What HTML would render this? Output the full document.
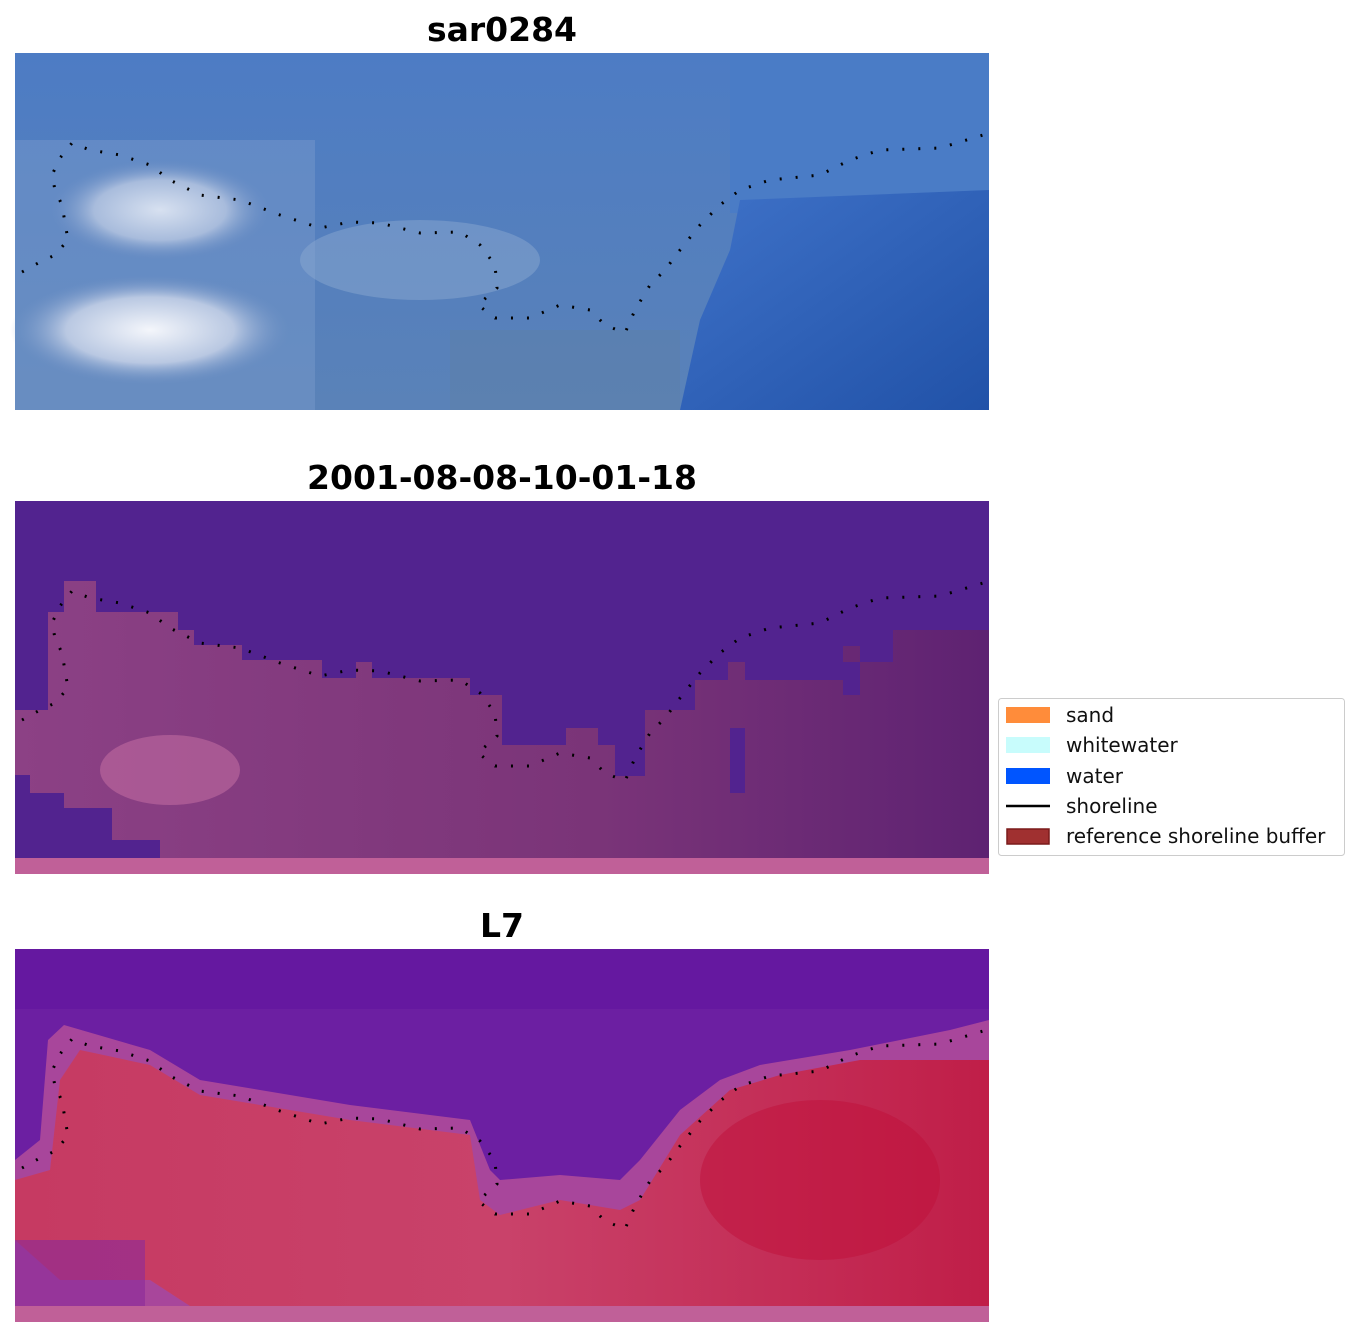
<!DOCTYPE html>
<html><head><meta charset="utf-8"><style>
body{margin:0;background:#fff;width:1360px;height:1337px;overflow:hidden;font-family:"DejaVu Sans","Liberation Sans",sans-serif}
</style></head><body>
<svg width="1360" height="1337" xmlns="http://www.w3.org/2000/svg" font-family="DejaVu Sans, Liberation Sans, sans-serif">
<defs>
<linearGradient id="b1" x1="0" y1="0" x2="0" y2="1"><stop offset="0" stop-color="#4d7cc4"/><stop offset="1" stop-color="#5a82b8"/></linearGradient>
<linearGradient id="b2" x1="0" y1="0" x2="1" y2="1"><stop offset="0" stop-color="#3f72c8"/><stop offset="1" stop-color="#2152a8"/></linearGradient>
<radialGradient id="w1" cx="0.5" cy="0.5" r="0.5"><stop offset="0" stop-color="#f4f6fb"/><stop offset="0.6" stop-color="#b9c8e2"/><stop offset="1" stop-color="#6f90c4" stop-opacity="0"/></radialGradient>
<linearGradient id="p2" x1="0" y1="0" x2="1" y2="0"><stop offset="0" stop-color="#8c4185"/><stop offset="0.6" stop-color="#7a3478"/><stop offset="1" stop-color="#5e2272"/></linearGradient>
<linearGradient id="r3" x1="0" y1="0" x2="1" y2="0"><stop offset="0" stop-color="#c63a62"/><stop offset="0.5" stop-color="#c9426a"/><stop offset="1" stop-color="#c01e48"/></linearGradient>
<g id="shore"><polyline fill="none" stroke="#000" stroke-width="3" stroke-dasharray="2,14" points="22,272 40,262 55,255 68,240 62,205 55,190 52,175 60,158 72,143 90,150 120,155 150,165 170,180 200,195 240,200 280,215 320,228 350,222 380,223 420,233 460,232 480,245 495,265 497,288 478,305 495,318 530,318 560,305 590,310 605,325 625,333 635,310 650,285 665,270 680,250 700,225 720,205 740,190 770,180 820,175 850,160 880,150 940,148 983,135"/></g>
</defs>
<!-- Panel 1 -->
<text x="502" y="41" font-size="33" font-weight="bold" text-anchor="middle">sar0284</text>
<rect x="15" y="53" width="974" height="357" fill="url(#b1)"/>
<rect x="15" y="140" width="300" height="270" fill="#7a9ccc" opacity="0.45"/>
<rect x="730" y="53" width="259" height="160" fill="#4a7cc6"/>
<polygon points="740,200 989,190 989,410 680,410 700,320 730,250" fill="url(#b2)"/>
<ellipse cx="160" cy="210" rx="110" ry="50" fill="url(#w1)" opacity="0.8"/>
<ellipse cx="150" cy="330" rx="140" ry="55" fill="url(#w1)"/>
<ellipse cx="420" cy="260" rx="120" ry="40" fill="#8aa8d0" opacity="0.5"/>
<rect x="450" y="330" width="230" height="80" fill="#5d80a8" opacity="0.5"/>
<use href="#shore" y="0"/>
<!-- Panel 2 -->
<text x="502" y="489" font-size="33" font-weight="bold" text-anchor="middle">2001-08-08-10-01-18</text>
<rect x="15" y="501" width="974" height="357" fill="#52238f"/>
<polygon fill="url(#p2)" points="15,710 48,710 48,612 64,612 64,581 96,581 96,612 178,612 178,630 194,630 194,645 242,645 242,660 322,660 322,678 356,678 356,662 372,662 372,678 470,678 470,695 502,695 502,745 566,745 566,728 598,728 598,745 615,745 615,776 645,776 645,710 695,710 695,680 728,680 728,662 745,662 745,728 730,728 730,793 745,793 745,680 843,680 843,646 860,646 860,662 893,662 893,630 989,630 989,858 160,858 160,840 112,840 112,808 64,808 64,793 30,793 30,775 15,775"/>
<rect x="843" y="662" width="17" height="33" fill="#52238f"/>
<ellipse cx="170" cy="770" rx="70" ry="35" fill="#c06aa0" opacity="0.6"/>
<rect x="15" y="858" width="974" height="16" fill="#c06098"/>
<use href="#shore" y="448"/>
<!-- Panel 3 -->
<text x="502" y="937" font-size="33" font-weight="bold" text-anchor="middle">L7</text>
<rect x="15" y="949" width="974" height="357" fill="#6c1fa2"/>
<rect x="15" y="949" width="974" height="60" fill="#6518a0"/>
<polygon fill="#b8509a" opacity="0.8" points="15,1160 40,1140 48,1040 64,1025 150,1050 200,1080 350,1105 470,1120 490,1170 500,1180 560,1175 620,1180 640,1160 680,1110 720,1080 760,1065 850,1050 950,1030 989,1020 989,1306 15,1306"/>
<polygon fill="url(#r3)" points="15,1180 50,1170 60,1080 80,1050 150,1065 200,1095 350,1120 470,1135 480,1200 500,1215 560,1200 620,1210 640,1200 680,1135 730,1090 780,1075 860,1060 989,1060 989,1306 190,1306 150,1280 60,1280 15,1240"/>
<rect x="15" y="1240" width="130" height="66" fill="#8a2a9a" opacity="0.6"/>
<ellipse cx="820" cy="1180" rx="120" ry="80" fill="#c0103a" opacity="0.5"/>
<rect x="15" y="1306" width="974" height="16" fill="#c06098"/>
<use href="#shore" y="896"/>
<!-- Legend -->
<rect x="998.5" y="698.5" width="346" height="157" rx="3" fill="#fff" stroke="#ccc"/>
<rect x="1006" y="707" width="44" height="16" fill="#ff8c3a"/>
<rect x="1006" y="737" width="44" height="16" fill="#c8fcfc"/>
<rect x="1006" y="768" width="44" height="16" fill="#0055ff"/>
<line x1="1006" y1="806" x2="1050" y2="806" stroke="#000" stroke-width="2.5"/>
<rect x="1007" y="829" width="42" height="15" fill="#a03030" stroke="#7a1a1a" stroke-width="1.5"/>
<g font-size="20" fill="#111">
<text x="1066" y="722">sand</text>
<text x="1066" y="752">whitewater</text>
<text x="1066" y="783">water</text>
<text x="1066" y="813">shoreline</text>
<text x="1066" y="843">reference shoreline buffer</text>
</g>
</svg>
</body></html>
